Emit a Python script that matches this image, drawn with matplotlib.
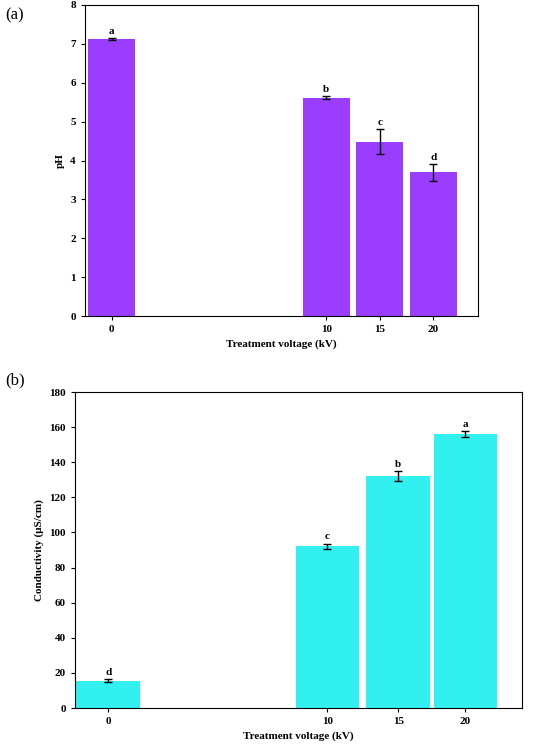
import numpy as np
import matplotlib.pyplot as plt

plt.rcParams['font.family'] = ['Liberation Serif', 'DejaVu Serif']

voltage_labels = ['0', '10', '15', '20']
pos_a = [0, 4, 5, 6]
pos_b = [0, 3.1, 4.1, 5.05]

ph = [7.12, 5.62, 4.48, 3.70]
ph_err = [0.03, 0.03, 0.32, 0.22]
ph_letters = ['a', 'b', 'c', 'd']

cond = [15.5, 92.0, 132.0, 156.0]
cond_err = [0.8, 1.5, 2.8, 1.6]
cond_letters = ['d', 'c', 'b', 'a']

fig = plt.figure(figsize=(5.33, 7.48), dpi=100)
ax1 = fig.add_axes([85/533, 1-316/748, 393/533, 311/748])
ax2 = fig.add_axes([75/533, 1-708/748, 447/533, 316/748])


def draw(ax, pos, vals, errs, letters, color, ylabel, ylim, step, off, xlim, width):
    ax.bar(pos, vals, width=width, color=color, yerr=errs, capsize=3,
           error_kw=dict(elinewidth=1, capthick=1, ecolor='black'))
    for p, v, e, t in zip(pos, vals, errs, letters):
        ax.text(p, v + e + off, t, ha='center', va='bottom', fontsize=8, fontweight='bold')
    ax.set_xticks(pos)
    ax.set_xticklabels(voltage_labels, fontweight='bold', fontsize=8)
    ax.set_yticks(np.arange(0, ylim + 0.1, step))
    ax.set_ylim(0, ylim)
    ax.set_xlim(*xlim)
    for lb in ax.get_yticklabels():
        lb.set_fontweight('bold')
        lb.set_fontsize(8)
    ax.set_xlabel('Treatment voltage (kV)', fontweight='bold', fontsize=8)
    ax.set_ylabel(ylabel, fontweight='bold', fontsize=8)
    ax.tick_params(length=3)


draw(ax1, pos_a, ph, ph_err, ph_letters, '#9B3DFF', 'pH', 8, 1, 0.05, (-0.5, 6.83), 0.88)
draw(ax2, pos_b, cond, cond_err, cond_letters, '#33F0F0', 'Conductivity (\u03bcS/cm)', 180, 20, 1.5, (-0.47, 5.85), 0.9)

fig.text(5/533, 1-15/748, '(a)', fontsize=12, va='center')
fig.text(5/533, 1-380/748, '(b)', fontsize=12, va='center')

fig.savefig('out.png', dpi=100)
